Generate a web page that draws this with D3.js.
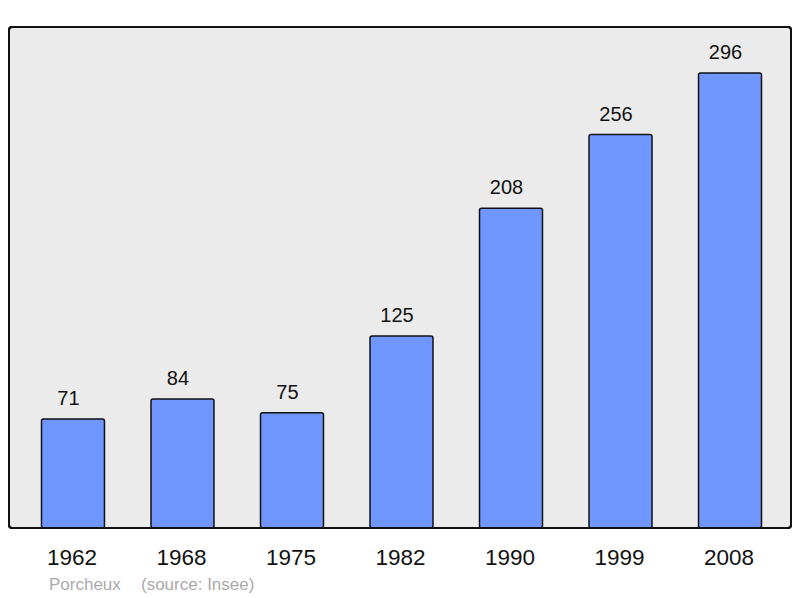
<!DOCTYPE html>
<html><head><meta charset="utf-8">
<script src="https://cdn.jsdelivr.net/npm/d3@7"></script>
<style>body{margin:0;background:#fff}svg{display:block}</style>
</head><body>
<script>
const years = ["1962","1968","1975","1982","1990","1999","2008"];
const population = [71,84,75,125,208,256,296];
const commune = "Porcheux";
const source = "(source: Insee)";

const W=800,H=598;
const svg=d3.select("body").append("svg").attr("width",W).attr("height",H);
const font="'Liberation Sans', Arial, sans-serif";
const x=d3.scaleBand().domain(years).range([41.5,761.5]).paddingInner(0.425).paddingOuter(0);
const y=d3.scaleLinear().domain([0,326]).range([528,27]);

svg.append("rect").attr("x",9).attr("y",27).attr("width",782).attr("height",501)
  .attr("rx",3).attr("fill","#ebebeb").attr("stroke","#111").attr("stroke-width",2);

const g=svg.append("g");
g.selectAll("rect.bar").data(population).join("rect").attr("class","bar")
  .attr("x",(d,i)=>x(years[i])).attr("y",d=>y(d))
  .attr("width",x.bandwidth()).attr("height",d=>y(0)-y(d))
  .attr("rx",2).attr("fill","#7097ff").attr("stroke","#111").attr("stroke-width",1.5);
g.selectAll("text.val").data(population).join("text").attr("class","val")
  .attr("x",(d,i)=>x(years[i])+x.bandwidth()/2-4.5).attr("y",d=>y(d)-14)
  .attr("text-anchor","middle").attr("font-family",font).attr("font-size",20).attr("fill","#111")
  .text(d=>d);

svg.append("rect").attr("x",9).attr("y",27).attr("width",782).attr("height",501)
  .attr("rx",3).attr("fill","none").attr("stroke","#111").attr("stroke-width",2);

svg.append("g").selectAll("text").data(years).join("text")
  .attr("x",d=>x(d)+x.bandwidth()/2-1).attr("y",564.5)
  .attr("text-anchor","middle").attr("font-family",font).attr("font-size",22.5).attr("fill","#111")
  .text(d=>d);

svg.append("text").attr("x",49).attr("y",590).attr("font-family",font).attr("font-size",17).attr("fill","#aaa").text(commune);
svg.append("text").attr("x",141).attr("y",590).attr("font-family",font).attr("font-size",17).attr("fill","#aaa").text(source);
</script>
</body></html>
